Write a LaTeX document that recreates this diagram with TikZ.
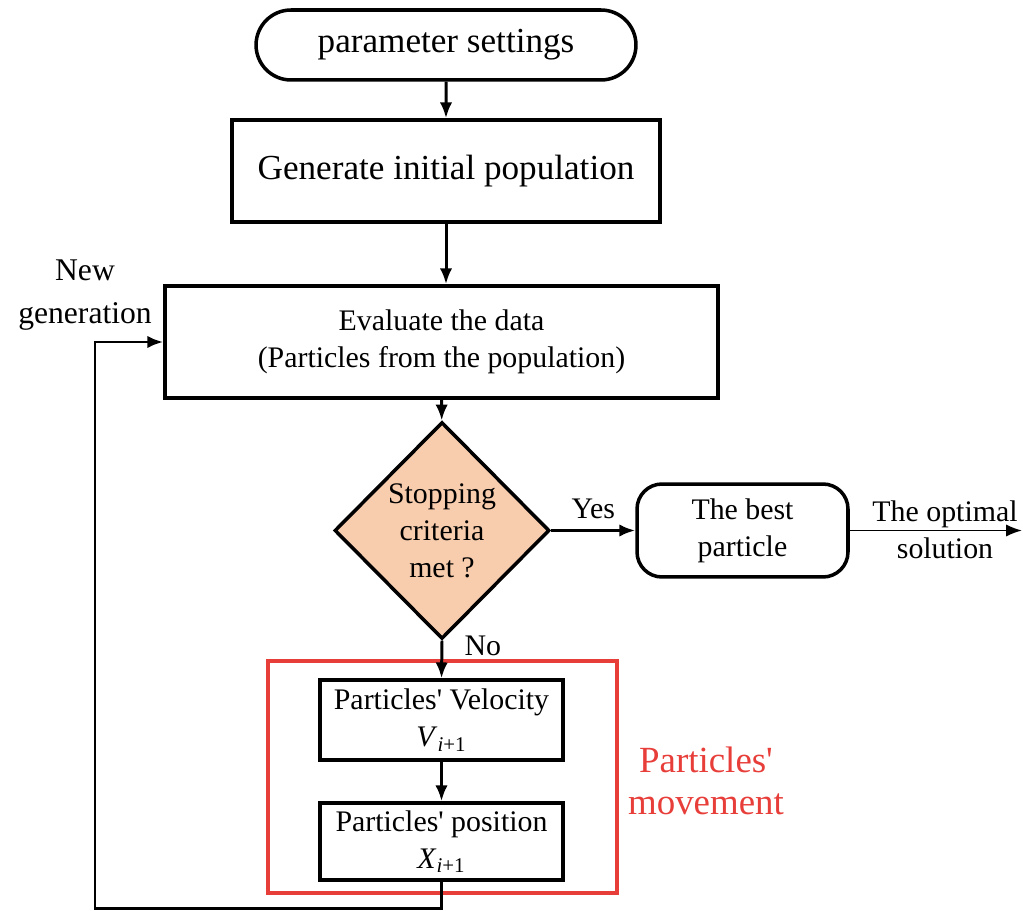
\documentclass[tikz,border=0pt]{standalone}
\usepackage{fontspec}
\setmainfont{Liberation Serif}
\usetikzlibrary{shapes.geometric,shapes.misc,arrows.meta}

\definecolor{peach}{RGB}{248,205,174}
\definecolor{movered}{RGB}{232,62,58}

\newcommand{\bigtext}{\fontsize{20}{24}\selectfont}
\newcommand{\midtext}{\fontsize{17}{21}\selectfont}

\tikzset{
  flow/.style={line width=1.7pt, -{Latex[length=9pt,width=7pt]}},
  stepbox/.style={draw, line width=2pt, align=center, inner sep=0pt},
  endbox/.style={stepbox, rounded rectangle},
  decision/.style={stepbox, diamond, fill=peach, aspect=1},
  lbl/.style={align=center, inner sep=0pt, font=\midtext}
}

\begin{document}
\begin{tikzpicture}[x=0.02cm, y=-0.02cm]
    \useasboundingbox (0,0) rectangle (1023,911);

    % main column
    \node[endbox, minimum width=7.6cm, minimum height=1.4cm, font=\bigtext]
      (param) at (446,45) {parameter settings};
    \node[stepbox, minimum width=8.56cm, minimum height=2.04cm, font=\bigtext]
      (init) at (446,171) {Generate initial population};
    \node[stepbox, minimum width=11.06cm, minimum height=2.24cm, font=\midtext]
      (eval) at (441.5,342) {Evaluate the data\\(Particles from the population)};
    \node[decision, minimum width=4.3cm, minimum height=4.34cm, font=\midtext]
      (stop) at (442,530.5) {Stopping\\criteria\\met ?};
    \node[stepbox, rounded corners=0.5cm, minimum width=4.22cm, minimum height=1.86cm, font=\midtext]
      (best) at (742.5,530.5) {The best\\particle};

    % particles' movement block
    \node[stepbox, minimum width=4.86cm, minimum height=1.6cm, font=\midtext]
      (vel) at (441.5,720) {Particles\textquotesingle{} Velocity\\\textit{V}\textsubscript{\textit{i}+1}};
    \node[stepbox, minimum width=4.86cm, minimum height=1.54cm, font=\midtext]
      (pos) at (441.5,841.5) {Particles\textquotesingle{} position\\\textit{X}\textsubscript{\textit{i}+1}};
    \draw[movered, line width=2pt] (268,661) rectangle (617,893);
    \node[lbl, movered, font=\fontsize{21}{24}\selectfont] (movelbl) at (706,781)
      {Particles\textquotesingle\\movement};

    \coordinate (outend) at (1022,530.5);
    \coordinate (loopcorner) at (95,908);

    \draw[flow] (param) -- (init);
    \draw[flow] (init.south) -- (init.south |- eval.north);
    \draw[flow] (eval) -- (stop);
    \draw[flow] (stop.east) -- node[lbl, above=6pt] (yes) {Yes} (best.west);
    \draw[flow, line width=1.1pt] (best.east) -- (outend);
    \node[lbl] (optimal) at (945,530) {The optimal\\solution};
    \draw[flow] (stop.south) -- node[lbl, pos=0.15, right=12pt] (no) {No} (vel.north);
    \draw[flow] (vel) -- (pos);

    % back to the evaluation step
    \draw[flow] (pos.south) -- (pos.south |- loopcorner) -- (loopcorner) |- (eval.west);
    \node[lbl, font=\fontsize{18}{24}\selectfont] (newgen) at (85,295) {New\\generation};
\end{tikzpicture}
\end{document}
